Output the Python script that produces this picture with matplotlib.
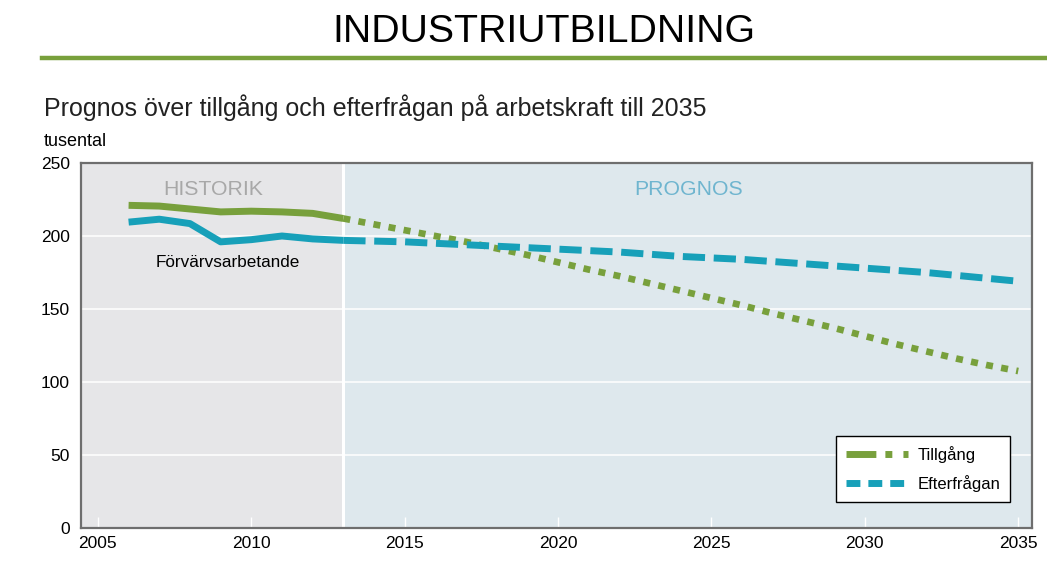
#!/usr/bin/env python3
"""Industriutbildning: tillgång och efterfrågan på arbetskraft till 2035."""

import matplotlib
matplotlib.use("Agg")
import matplotlib.pyplot as plt
from matplotlib.lines import Line2D

plt.rcParams["font.family"] = ["Liberation Sans", "DejaVu Sans"]

# historik (tusental)
hist_years = [2006, 2007, 2008, 2009, 2010, 2011, 2012, 2013]
hist_supply = [221, 220.5, 218.5, 216.5, 217, 216.5, 215.5, 212]
hist_employed = [209.5, 211.5, 208.5, 196, 197.5, 200, 198, 197]

# prognos (tusental)
prog_years = list(range(2013, 2036))
prog_supply = [212, 208, 204, 200, 196, 191.5, 187, 182, 177, 172.5, 167.5,
               162.5, 157.5, 152.5, 147, 142, 137, 131.5, 126, 121, 116,
               111.5, 107.5]
prog_demand = [197, 196.5, 196, 195, 194, 193, 192, 191, 190, 189, 187.5,
               186, 185, 184, 182.5, 181, 179.5, 178, 176.5, 175, 173,
               171, 169]

x_ticks = [2005, 2010, 2015, 2020, 2025, 2030, 2035]
y_ticks = [0, 50, 100, 150, 200, 250]

GREEN = "#78a03c"
BLUE = "#17a0b9"


def main() -> None:
    fig = plt.figure(figsize=(10.47, 5.88), dpi=100)

    # header
    fig.text(0.519, 0.946, "INDUSTRIUTBILDNING", ha="center", va="center",
             fontsize=28.3, color="black")
    fig.add_artist(Line2D([0.040, 1.0], [0.901, 0.901], color=GREEN,
                          linewidth=3.2, transform=fig.transFigure))
    fig.text(0.042, 0.817, "Prognos över tillgång och efterfrågan på arbetskraft till 2035",
             ha="left", va="center", fontsize=18, color="#222222")
    fig.text(0.042, 0.760, "tusental", ha="left", va="center", fontsize=13)

    ax = fig.add_axes([0.0774, 0.102, 0.9083, 0.6208])
    ax.set_xlim(2004.45, 2035.45)
    ax.set_ylim(0, 250)

    ax.axvspan(2004.45, 2013, color="#e6e6e8", zorder=0, linewidth=0)
    ax.axvspan(2013, 2035.45, color="#dee8ed", zorder=0, linewidth=0)
    for y in y_ticks[1:-1]:
        ax.axhline(y, color="white", linewidth=1.1, zorder=1)
    ax.axvline(2013, color="white", linewidth=2.2, zorder=1)

    ax.text(2008.75, 232, "HISTORIK", ha="center", va="center",
            fontsize=15.3, color="#a8a8a8")
    ax.text(2024.25, 232, "PROGNOS", ha="center", va="center",
            fontsize=15.3, color="#6fb5cf")
    ax.text(2009.25, 182, "Förvärvsarbetande", ha="center", va="center",
            fontsize=12.3, color="black")

    ax.plot(hist_years, hist_supply, color=GREEN, linewidth=5,
            solid_capstyle="butt", zorder=3)
    ax.plot(hist_years, hist_employed, color=BLUE, linewidth=5,
            solid_capstyle="butt", zorder=3)
    ax.plot(prog_years, prog_supply, color=GREEN, linewidth=4.8,
            dashes=(1.05, 1.25), dash_capstyle="butt", zorder=3)
    ax.plot(prog_years, prog_demand, color=BLUE, linewidth=5,
            dashes=(3.2, 1.25), dash_capstyle="butt", zorder=3)

    ax.set_xticks(x_ticks)
    ax.set_yticks(y_ticks)
    ax.tick_params(axis="x", direction="in", color="white", length=8,
                   width=1, labelsize=12.5, pad=6)
    ax.tick_params(axis="y", length=0, labelsize=12.5, pad=8)
    for spine in ax.spines.values():
        spine.set_color("#6e6e6e")
        spine.set_linewidth(1.6)

    handles = [
        Line2D([], [], color=GREEN, linewidth=5,
               dashes=(4.3, 1.3, 1.0, 1.6, 0.8, 10), dash_capstyle="butt"),
        Line2D([], [], color=BLUE, linewidth=5,
               dashes=(2.0, 1.15), dash_capstyle="butt"),
    ]
    leg = ax.legend(handles, ["Tillgång", "Efterfrågan"], loc="lower right",
                    bbox_to_anchor=(0.977, 0.071), fontsize=12,
                    frameon=True, fancybox=False, handlelength=3.75,
                    handletextpad=0.55, labelspacing=0.75, borderpad=0.6,
                    borderaxespad=0)
    leg.get_frame().set_edgecolor("black")
    leg.get_frame().set_linewidth(1.0)
    leg.get_frame().set_facecolor("white")
    leg.get_frame().set_alpha(1)

    fig.savefig("out.png", dpi=100)
    plt.close(fig)


if __name__ == "__main__":
    main()
